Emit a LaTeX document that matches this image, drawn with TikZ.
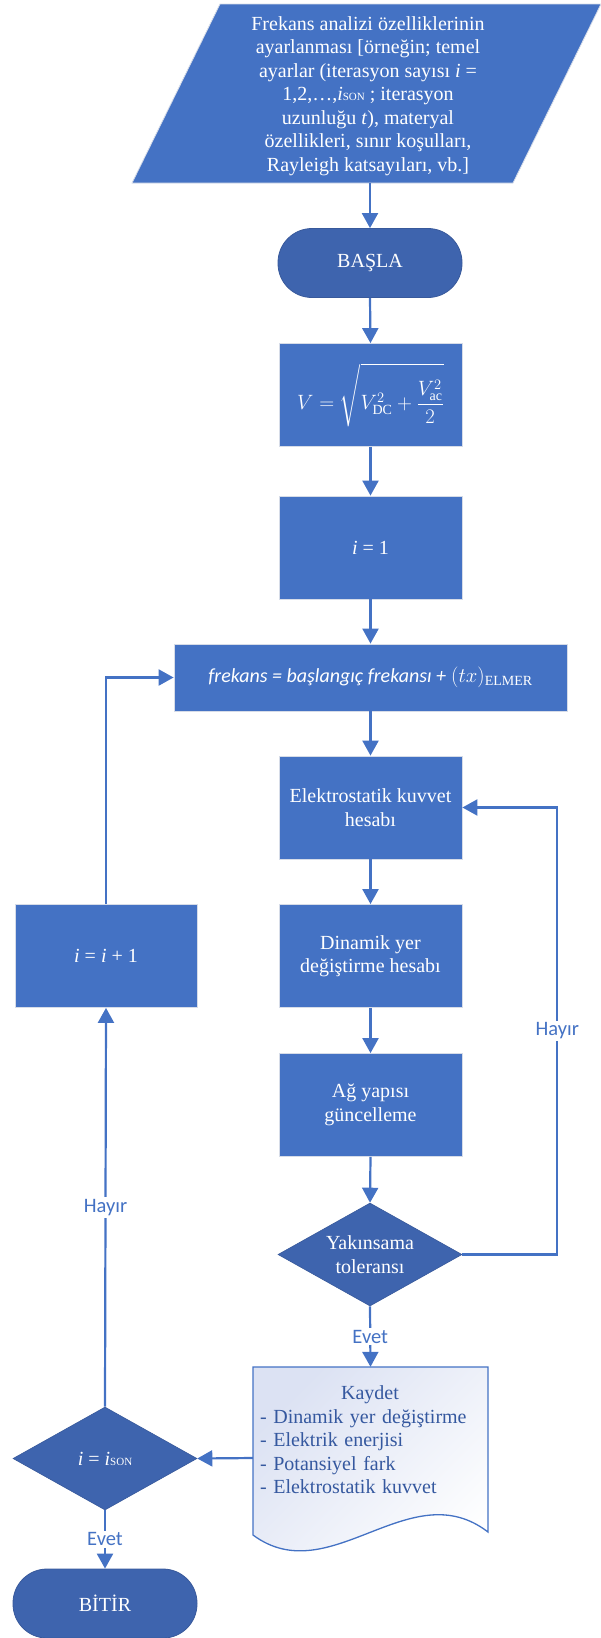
\documentclass[tikz,border=0pt]{standalone}
\usepackage{fontspec}
\usepackage{amsmath}
\setmainfont{Liberation Serif}
\newfontfamily\labelfont{Carlito}
\usetikzlibrary{arrows.meta,shapes.geometric,calc}

\definecolor{boxblue}{HTML}{4472C4}
\definecolor{termblue}{HTML}{3E64AE}
\definecolor{termedge}{HTML}{38599B}
\definecolor{boxedge}{HTML}{D6DCE8}
\definecolor{docshade}{HTML}{DCE2F3}
\definecolor{doctext}{HTML}{35589F}

\newcommand\sonidx{\textit{i}{\fontsize{11}{11}\selectfont SON}}

\begin{document}
\begin{tikzpicture}[x=1pt,y=-1pt,
  txt/.style={font=\fontsize{20}{23.5}\selectfont},
  procbox/.style={txt,rectangle,fill=boxblue,draw=boxedge,line width=0.8pt,
    text=white,align=center,inner sep=0pt,minimum width=183pt,minimum height=103pt},
  termbox/.style={txt,rectangle,rounded corners=34pt,fill=termblue,draw=termedge,
    line width=0.8pt,text=white,inner sep=0pt,minimum width=184pt,minimum height=69pt},
  decision/.style={txt,diamond,aspect=1.79,fill=termblue,draw=termedge,line width=0.6pt,
    text=white,align=center,inner sep=0pt,minimum width=184pt,minimum height=103pt},
  flow/.style={draw=boxblue,line width=2.2pt,-{Triangle[width=16pt,length=15pt]}},
  flowlabel/.style={font=\labelfont\fontsize{20.5}{20.5}\selectfont,text=boxblue,
    fill=white,inner sep=2pt}]
\useasboundingbox (0,0) rectangle (600,1638);

% input parallelogram
\filldraw[fill=boxblue,draw=boxedge,line width=0.8pt]
  (132,183) -- (220,4) -- (601,4) -- (513,183) -- cycle;
\node[txt,text=white,align=center,inner sep=0pt] (input) at (368,96)
  {Frekans analizi özelliklerinin\\
   ayarlanması [örneğin; temel\\
   ayarlar (iterasyon sayısı \textit{i} =\\
   1,2,…,\sonidx\ ; iterasyon\\
   uzunluğu \textit{t}), materyal\\
   özellikleri, sınır koşulları,\\
   Rayleigh katsayıları, vb.]};
\coordinate (inbot) at (370,183);

% main column
\node[termbox] (start) at (370,263) {BAŞLA};
\node[procbox] (vbox) at (370.5,395)
  {$\displaystyle V=\sqrt{\rule{0pt}{1.9em}V_{\mathrm{DC}}^{2}+\frac{V_{\mathrm{ac}}^{2}}{2}}$};
\node[procbox] (ione) at (370.5,547.5) {\textit{i} = 1};
\node[procbox,minimum width=393pt,minimum height=67pt] (freq) at (370.5,677.5)
  {{\labelfont\itshape frekans = başlangıç frekansı +} $(tx)_{\mathrm{ELMER}}$};
\node[procbox] (elek) at (370.5,807.5) {Elektrostatik kuvvet\\hesabı};
\node[procbox] (dyn) at (370.5,956) {Dinamik yer\\değiştirme hesabı};
\node[procbox] (mesh) at (370.5,1105) {Ağ yapısı\\güncelleme};
\node[decision] (yak) at (370,1254.5) {Yakınsama\\toleransı};

% output document
\node[minimum width=235pt,minimum height=182pt,inner sep=0pt] (doc) at (370.5,1458) {};
\path[draw=boxblue,line width=1.3pt,top color=docshade,bottom color=white,shading angle=45]
  (253,1367) -- (488,1367) -- (488,1532)
  .. controls (410,1472) and (330,1592) .. (253,1535) -- cycle;
\node[txt,text=doctext,text width=220pt,align=left,inner sep=0pt] (doctext) at (370,1440)
  {\makebox[220pt][c]{Kaydet}\\
   - Dinamik yer değiştirme\\
   - Elektrik enerjisi\\
   - Potansiyel fark\\
   - Elektrostatik kuvvet};

% left column
\node[procbox,minimum width=182pt] (inc) at (106,956) {\textit{i} = \textit{i} + 1};
\node[decision] (son) at (105,1458.5) {\textit{i} = \sonidx};
\node[termbox] (stop) at (105,1603.5) {BİTİR};

% connectors
\draw[flow] (inbot) -- (start.north);
\draw[flow] (start.south) -- (vbox.north);
\draw[flow] (vbox.south) -- (ione.north);
\draw[flow] (ione.south) -- (freq.north);
\draw[flow] (freq.south) -- (elek.north);
\draw[flow] (elek.south) -- (dyn.north);
\draw[flow] (dyn.south) -- (mesh.north);
\draw[flow] (mesh.south) -- (yak.north);
\draw[flow] (yak.south) -- node[flowlabel,midway] {Evet} (doc.north);
\draw[flow] (yak.east) -- ++(95,0) |- node[flowlabel,pos=0.25] {Hayır} (elek.east);
\draw[flow] (doc.west) -- (son.east);
\draw[flow] (son.south) -- node[flowlabel,midway] {Evet} (stop.north);
\draw[flow] (son.north) -- node[flowlabel,midway] {Hayır} (inc.south);
\draw[flow] (inc.north) |- (freq.west);
\end{tikzpicture}
\end{document}
